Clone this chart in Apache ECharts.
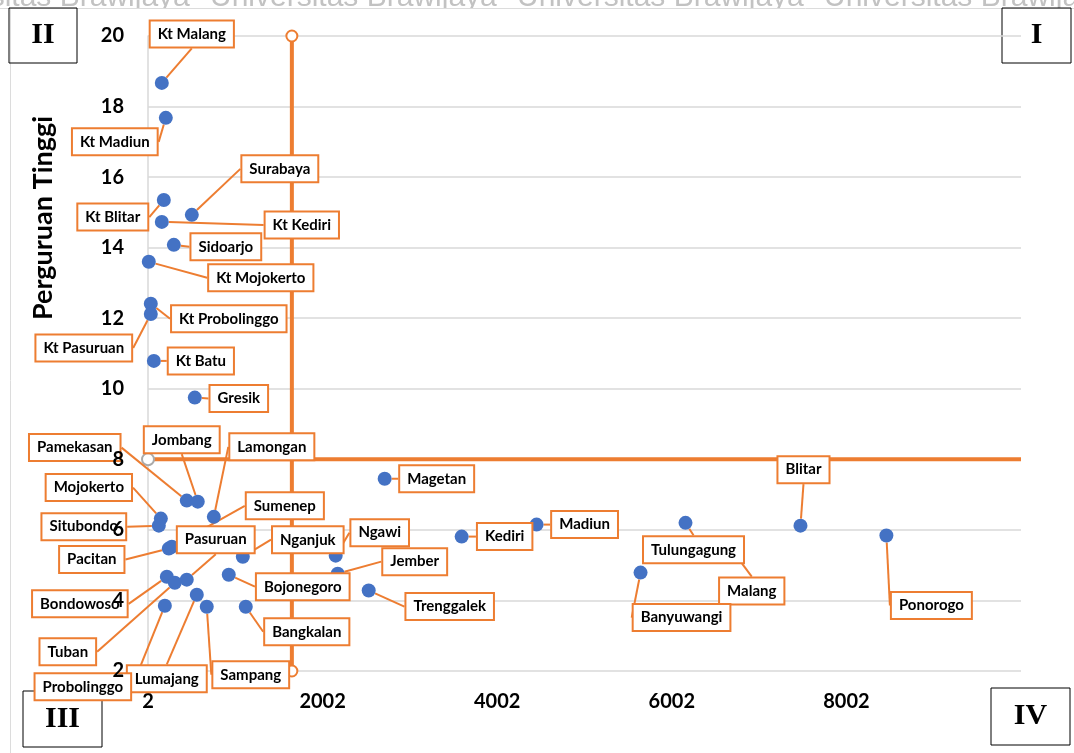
<!DOCTYPE html>
<html><head><meta charset="utf-8">
<script src="https://cdn.jsdelivr.net/npm/echarts@6/dist/echarts.min.js"></script>
<style>html,body{margin:0;padding:0;background:#fff}#c{width:1074px;height:753px}</style>
</head><body><div id="c"></div>
<script>
const names = ['Kt Malang','Kt Madiun','Kt Blitar','Surabaya','Kt Kediri','Sidoarjo','Kt Mojokerto','Kt Probolinggo','Kt Pasuruan','Kt Batu','Gresik','Pamekasan','Jombang','Lamongan','Mojokerto','Situbondo','Pacitan','Sumenep','Pasuruan','Nganjuk','Bojonegoro','Bondowoso','Tuban','Lumajang','Probolinggo','Sampang','Bangkalan','Ngawi','Jember','Magetan','Trenggalek','Kediri','Madiun','Tulungagung','Malang','Banyuwangi','Blitar','Ponorogo'];
const xValues = [160,206,183,504,160,298,11,34,34,69,538,446,572,756,149,126,240,275,446,1088,927,218,309,561,195,675,1122,2152,2175,2713,2530,3595,4453,6159,6700,5644,7476,8460];
const yValues = [18.67,17.68,15.35,14.93,14.73,14.08,13.6,12.41,12.12,10.79,9.75,6.83,6.8,6.37,6.32,6.12,5.47,5.52,4.59,5.24,4.73,4.67,4.5,4.16,3.85,3.82,3.82,5.27,4.76,7.45,4.28,5.81,6.15,6.2,5.4,4.79,6.12,5.84];
const quadrantX = 1650;
const quadrantY = 8;
const xMin = 2, xMax = 10002, xStep = 2000;
const yMin = 2, yMax = 20, yStep = 2;
const yTitle = 'Perguruan Tinggi';
const quadrantNames = ['I','II','III','IV'];
const watermark = 'Universitas Brawijaya';

// label offsets (dx, dy) from point to label centre
const labelOffsets = [[30,-49],[-51,24],[-51,17],[88,-46],[140,3],[52,2],[112,16],[78,15],[-67,34],[47,0],[44,1],[-112,-53],[-16,-62],[58,-70],[-72,-31],[-75,1],[-77,11],[113,-41],[29,-40],[65,-17],[74,12],[-87,27],[-107,69],[-30,84],[-82,81],[44,68],[61,25],[44,-23],[77,-12],[52,0],[81,16],[43,0],[48,0],[8,27],[19,40],[41,45],[3,-56],[45,70]];

const ORANGE = '#ED7D31', BLUE = '#4472C4', GRID = '#d9d9d9';
const chart = echarts.init(document.getElementById('c'));

const romanBox = (t, x, y, w, h) => ({
  type: 'group', z: 100, children: [
    {type: 'rect', shape: {x: x, y: y, width: w, height: h}, style: {fill: 'transparent', stroke: '#000', lineWidth: 1}},
    {type: 'text', x: x + w / 2, y: y + h / 2, style: {text: t, font: 'bold 30px "Liberation Serif"', fill: '#000', align: 'center', verticalAlign: 'middle'}}
  ]
});
const wm = (x) => ({type: 'text', x: x, y: 13, z: 0, style: {text: watermark, font: '30px "Liberation Sans"', fill: '#c2c2c2', verticalAlign: 'bottom'}});

chart.setOption({
  animation: false,
  backgroundColor: '#fff',
  grid: {left: 148, right: 53, top: 36, bottom: 82},
  xAxis: {
    type: 'value', min: xMin, max: xMax, interval: xStep,
    axisLine: {show: false}, axisTick: {show: false}, splitLine: {show: false},
    axisLabel: {color: '#000', fontFamily: 'Lato', fontWeight: 'bold', fontSize: 20, margin: 21, showMaxLabel: false, formatter: v => String(v)}
  },
  yAxis: [{
    type: 'value', min: yMin, max: yMax, interval: yStep, z: 0,
    axisLine: {show: true, lineStyle: {color: GRID, width: 1.5}}, axisTick: {show: false},
    splitLine: {lineStyle: {color: GRID, width: 1.5}},
    axisLabel: {show: false}
  }, {
    type: 'value', min: yMin, max: yMax, interval: yStep, z: 20, position: 'left',
    axisLine: {show: false}, axisTick: {show: false}, splitLine: {show: false},
    axisLabel: {color: '#000', fontFamily: 'Lato', fontWeight: 'bold', fontSize: 20, margin: 24}
  }],
  series: [{
    type: 'line', z: 1, silent: true,
    data: [[quadrantX, yMin], [quadrantX, yMax]],
    symbol: 'emptyCircle', symbolSize: 11,
    lineStyle: {color: ORANGE, width: 4},
    itemStyle: {color: ORANGE, borderColor: ORANGE, borderWidth: 1.5}
  }, {
    type: 'line', z: 1, silent: true,
    data: [{value: [xMin, quadrantY], symbol: 'emptyCircle', symbolSize: 12, itemStyle: {color: '#aaa', borderColor: '#aaa', borderWidth: 1.5}},
           {value: [xMax, quadrantY], symbol: 'none'}],
    lineStyle: {color: ORANGE, width: 4},
    itemStyle: {color: ORANGE}
  }, {
    type: 'scatter', z: 3,
    data: names.map((n, i) => ({name: n, value: [xValues[i], yValues[i]]})),
    symbolSize: 14,
    itemStyle: {color: BLUE, opacity: 1},
    label: {
      show: true, position: 'inside', formatter: '{b}',
      color: '#000', fontFamily: 'Lato', fontWeight: 'bold', fontSize: 15,
      backgroundColor: '#fff', borderColor: ORANGE, borderWidth: 2, padding: [5, 7]
    },
    labelLine: {show: true, lineStyle: {color: ORANGE, width: 2}},
    labelLayout: function (p) {
      const o = labelOffsets[p.dataIndex];
      return {dx: o[0], dy: o[1]};
    }
  }],
  graphic: [
    wm(-97), wm(210), wm(517), wm(824),
    {type: 'rect', shape: {x: 0, y: 9, width: 1074, height: 20}, style: {fill: '#fff'}, z: 0},
    {type: 'line', shape: {x1: 0, y1: 8.5, x2: 1074, y2: 8.5}, style: {stroke: '#dcdcdc', lineWidth: 1}, z: 0},
    {type: 'line', shape: {x1: 10.5, y1: 8, x2: 10.5, y2: 753}, style: {stroke: '#dcdcdc', lineWidth: 1}, z: 0},
    {type: 'text', x: 43, y: 218, rotation: Math.PI / 2, z: 50, style: {text: yTitle, font: 'bold 27px Lato', fill: '#000', align: 'center', verticalAlign: 'middle'}},
    romanBox(quadrantNames[1], 9, 8, 68, 55),
    romanBox(quadrantNames[0], 1002, 8, 69, 55),
    romanBox(quadrantNames[2], 23, 691, 79, 56),
    romanBox(quadrantNames[3], 991, 688, 79, 57)
  ]
});
</script></body></html>
